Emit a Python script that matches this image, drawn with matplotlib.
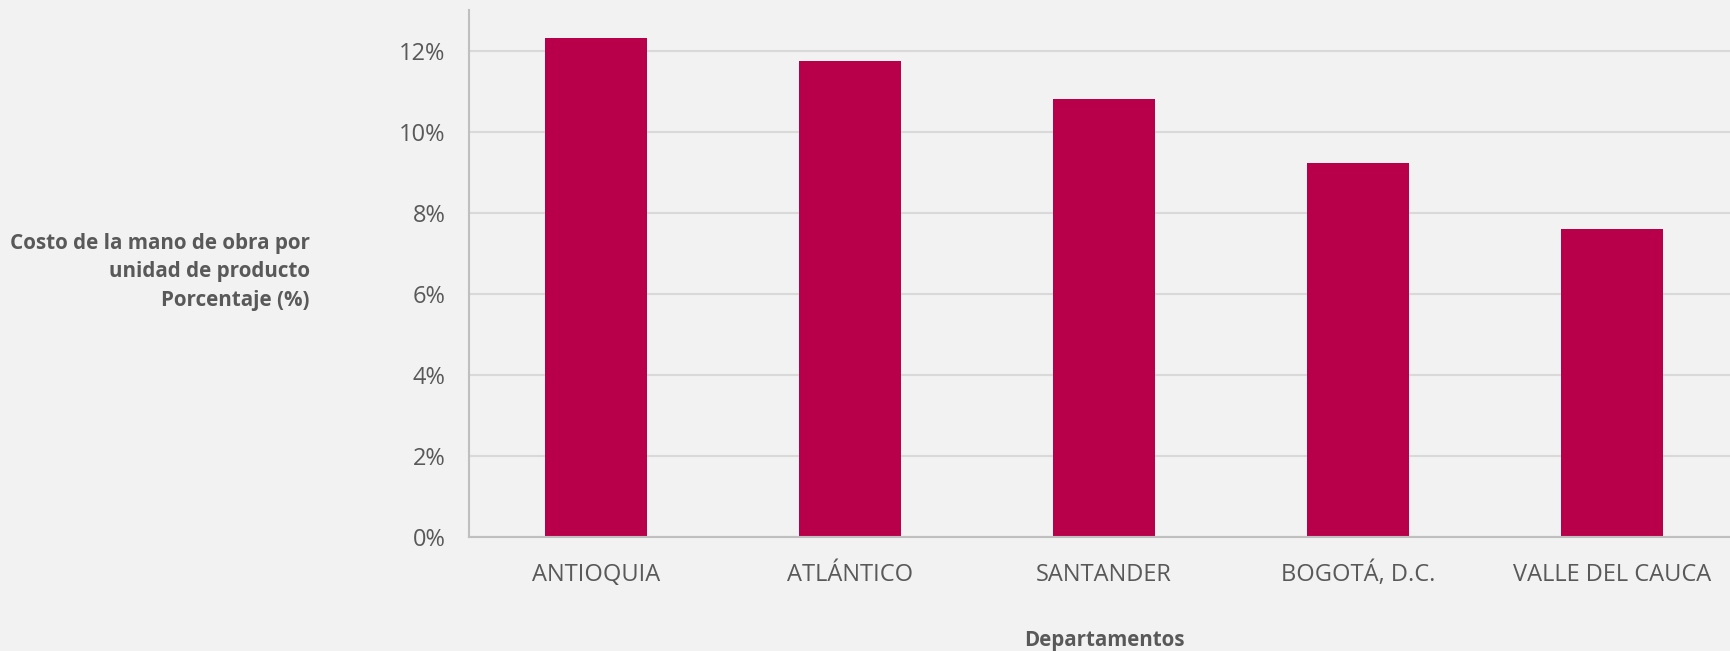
import matplotlib
matplotlib.use("Agg")
import matplotlib.pyplot as plt
from matplotlib.ticker import FuncFormatter

departamentos = ["ANTIOQUIA", "ATLÁNTICO", "SANTANDER", "BOGOTÁ, D.C.", "VALLE DEL CAUCA"]
costo_pct = [12.30, 11.73, 10.81, 9.23, 7.61]
y_ticks = [0, 2, 4, 6, 8, 10, 12]

BG = "#F2F2F2"
BAR = "#B8004A"
GRID = "#D9D9D9"
AXIS = "#BFBFBF"
TXT = "#595959"

plt.rcParams["font.family"] = ["Open Sans", "DejaVu Sans"]

fig = plt.figure(figsize=(17.31, 6.51), dpi=100, facecolor=BG)
ax = fig.add_axes([469 / 1731, (651 - 537) / 651, (1731 - 469) / 1731, (537 - 10) / 651])
ax.set_facecolor(BG)

x = list(range(len(departamentos)))
ax.bar(x, costo_pct, width=0.4, color=BAR, zorder=3)

ax.set_xlim(-0.5, -0.5 + (1731 - 469) / 254)
ax.set_ylim(0, 13.0)
ax.set_yticks(y_ticks)
ax.yaxis.set_major_formatter(FuncFormatter(lambda v, p: f"{v:.0f}%"))
ax.set_xticks(x)
ax.set_xticklabels(departamentos, va="baseline")

ax.grid(axis="y", color=GRID, linewidth=1.5, zorder=0)
ax.grid(axis="x", visible=False)
for s in ["top", "right"]:
    ax.spines[s].set_visible(False)
for s in ["left", "bottom"]:
    ax.spines[s].set_color(AXIS)
    ax.spines[s].set_linewidth(1.5)
    ax.spines[s].set_zorder(4)

ax.tick_params(axis="both", length=0, colors=TXT, labelsize=17)
ax.tick_params(axis="y", pad=17)
ax.tick_params(axis="x", pad=31.5)

fig.text(310 / 1731, 1 - 272 / 651,
         "Costo de la mano de obra por\nunidad de producto\nPorcentaje (%)",
         ha="right", va="center", ma="right", fontsize=14.9, fontweight="bold",
         color=TXT, linespacing=1.45)
fig.text(1104 / 1731, 1 - 646 / 651, "Departamentos", ha="center", va="baseline",
         fontsize=14.8, fontweight="bold", color=TXT)

fig.savefig("out.png", dpi=100, facecolor=BG)
